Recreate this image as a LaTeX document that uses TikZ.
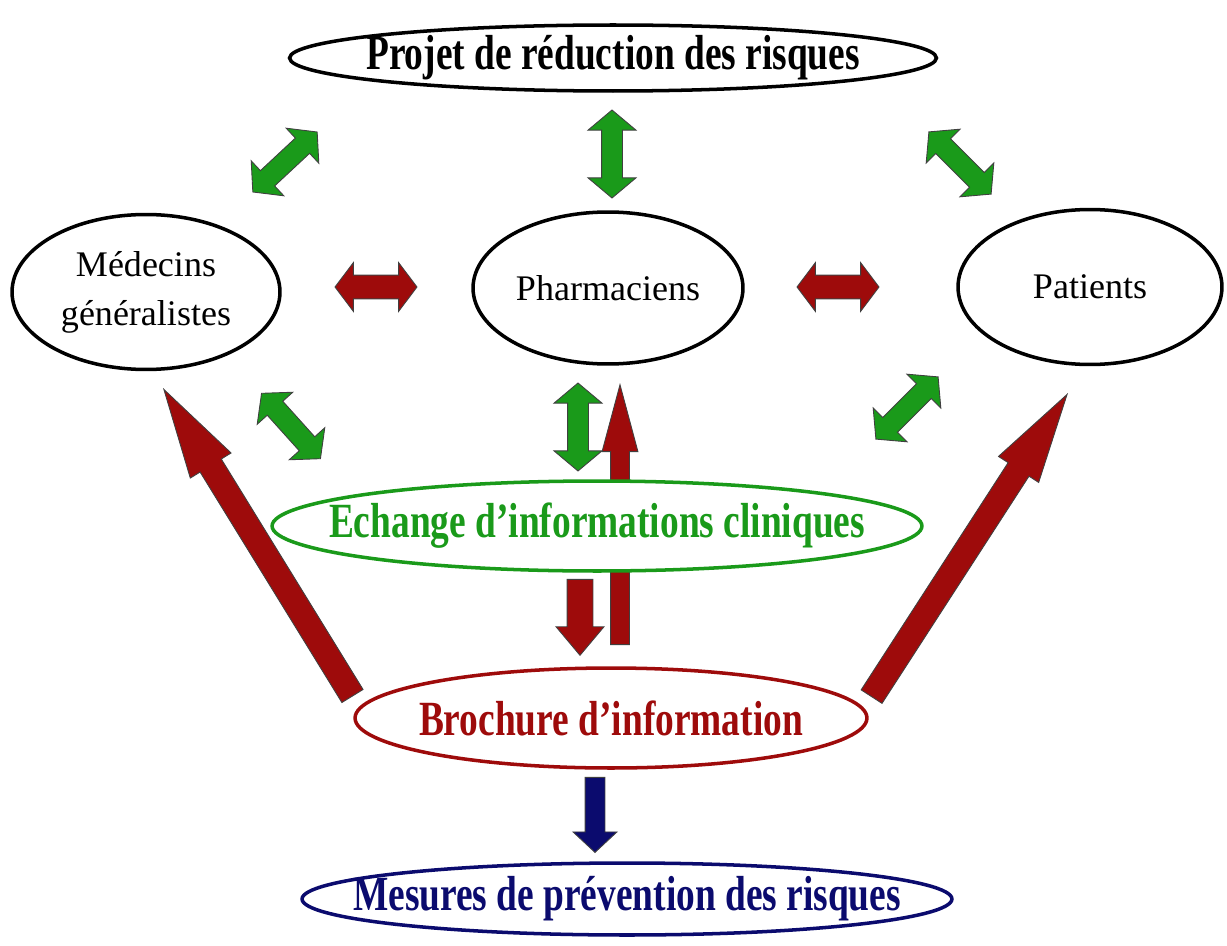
\documentclass[tikz,border=0pt]{standalone}
\usepackage{fontspec}
\setmainfont{Liberation Serif}
\newfontfamily\condserif[FakeStretch=0.76]{Liberation Serif}
\usepackage{tikz}
\usetikzlibrary{shapes.geometric,shapes.arrows}
\definecolor{leaf}{HTML}{1A9A1A}
\definecolor{wine}{HTML}{9E0B0B}
\definecolor{ink}{HTML}{0B0B6E}
\tikzset{
  oval/.style={ellipse, draw=black, line width=2pt, fill=white, inner sep=0pt, align=center},
  actor/.style={oval, font=\fontsize{20.5}{28}\selectfont},
  topic/.style={oval, inner xsep=-3cm, font=\condserif\bfseries\fontsize{28}{30}\selectfont},
  dblarrow/.style={double arrow, draw=black!75, line width=0.5pt, inner sep=0pt},
  talk/.style={dblarrow, fill=leaf, inner ysep=.2cm, minimum height=1.76cm,
               double arrow head extend=.27cm, double arrow tip angle=100},
  link/.style={dblarrow, fill=wine, inner ysep=.23cm, minimum height=1.64cm,
               double arrow head extend=.25cm, double arrow tip angle=106},
  push/.style={single arrow, draw=black!75, fill=wine, line width=0.5pt, inner sep=0pt, anchor=tip}
}

\begin{document}
\begin{tikzpicture}[x=0.02cm, y=-0.02cm]
 \useasboundingbox (0,0) rectangle (1227,946);
 % green exchanges
 \node[talk, rotate=43] (g1) at (285,162) {};
 \node[talk, rotate=90] (g2) at (612,154) {};
 \node[talk, rotate=-45] (g3) at (960,163) {};
 \node[talk, rotate=-48] (g4) at (291,426) {};
 \node[talk, rotate=90] (g5) at (578,427) {};
 \node[talk, rotate=45] (g6) at (907,408) {};
 % red links between actors
 \node[link] (r1) at (376,287) {};
 \node[link] (r2) at (838,287) {};
 % brochure flows, placed by their tips
 \node[push, rotate=121.6, minimum height=7.2cm, inner ysep=.24cm,
       single arrow head extend=.23cm, single arrow tip angle=30] (toMed) at (163,388) {};
 \node[push, rotate=57.1, minimum height=7.2cm, inner ysep=.24cm,
       single arrow head extend=.23cm, single arrow tip angle=30] (toPat) at (1068,393) {};
 \node[push, rotate=90, minimum height=5.2cm, inner ysep=.18cm,
       single arrow head extend=.17cm, single arrow tip angle=30] (toPha) at (620,383) {};
 \node[push, rotate=-90, minimum height=1.52cm, inner ysep=.25cm,
       single arrow head extend=.22cm, single arrow tip angle=80] (toBro) at (580,656) {};
 \node[push, fill=ink, rotate=-90, minimum height=1.5cm, inner ysep=.19cm,
       single arrow head extend=.24cm, single arrow tip angle=94] (toMes) at (595,853) {};
 % ovals
 \node[topic, minimum width=12.94cm, minimum height=1.32cm] (projet) at (613,58) {Projet de réduction des risques};
 \node[actor, minimum width=5.36cm, minimum height=3.1cm] (medecins) at (146,292) {Médecins\\généralistes};
 \node[actor, minimum width=5.4cm, minimum height=3.04cm] (pharma) at (608,288) {Pharmaciens};
 \node[actor, minimum width=5.28cm, minimum height=3.1cm] (patients) at (1090,287) {Patients};
 \node[topic, draw=leaf, text=leaf, minimum width=13cm, minimum height=1.8cm] (echange) at (597,526) {Echange d’informations cliniques};
 \node[topic, draw=wine, text=wine, minimum width=10.24cm, minimum height=2cm] (brochure) at (611,718) {Brochure d’information};
 \node[topic, draw=ink, text=ink, minimum width=13cm, minimum height=1.44cm] (mesures) at (627,899) {Mesures de prévention des risques};
\end{tikzpicture}
\end{document}
